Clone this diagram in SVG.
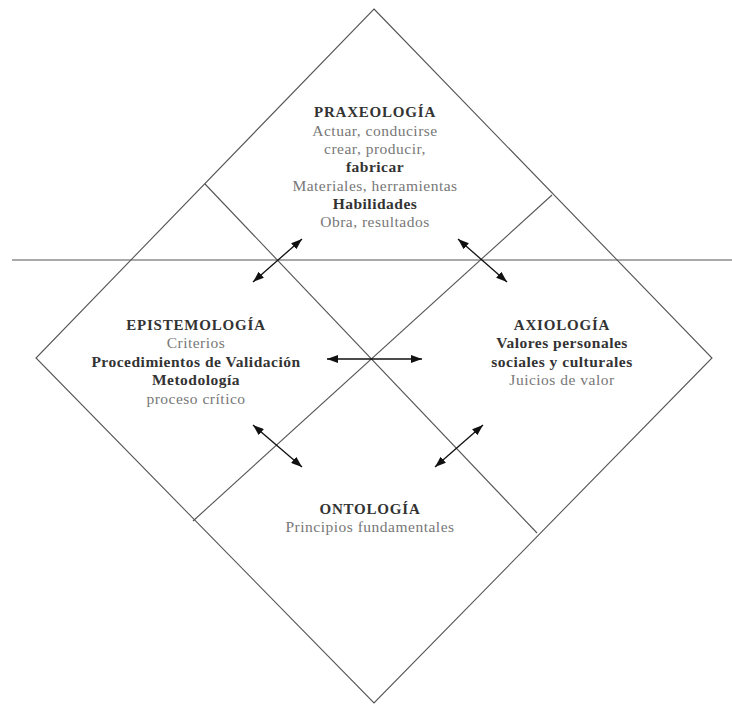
<svg xmlns="http://www.w3.org/2000/svg" width="732" height="706" viewBox="0 0 732 706">
  <style>
    .frame { fill: none; stroke: #555; stroke-width: 1.1; }
    .link { fill: none; stroke: #111; stroke-width: 1.3; marker-start: url(#head); marker-end: url(#head); }
    text { font-family: "Liberation Serif", "DejaVu Serif", serif; font-size: 15.5px; letter-spacing: 0.5px; text-anchor: middle; }
    .title { font-weight: bold; fill: #333; font-size: 15px; letter-spacing: 0.8px; }
    .plain { fill: #777; }
    .strong { font-weight: bold; fill: #333; }
  </style>
  <defs>
    <marker id="head" viewBox="0 0 11 8" refX="11" refY="4" markerWidth="11" markerHeight="8" markerUnits="userSpaceOnUse" orient="auto-start-reverse">
      <path d="M0,0 L11,4 L0,8 z" fill="#111"/>
    </marker>
  </defs>

  <rect width="732" height="706" fill="#fff"/>

  <!-- outer diamond, horizontal divider and the two crossing diagonals -->
  <g id="frame">
    <polygon class="frame" points="374,9 712,358 374,703 36,358"/>
    <line class="frame" x1="12" y1="260" x2="732" y2="260"/>
    <line class="frame" x1="205" y1="184" x2="537" y2="533"/>
    <line class="frame" x1="552" y1="195" x2="193" y2="521"/>
  </g>

  <g id="praxeologia">
    <text class="title" x="375" y="117">PRAXEOLOGÍA</text>
    <text class="plain" x="375" y="135.5">Actuar, conducirse</text>
    <text class="plain" x="375" y="154">crear, producir,</text>
    <text class="strong" x="375" y="172">fabricar</text>
    <text class="plain" x="375" y="190.5">Materiales, herramientas</text>
    <text class="strong" x="375" y="208.5">Habilidades</text>
    <text class="plain" x="375" y="227">Obra, resultados</text>
  </g>

  <g id="epistemologia">
    <text class="title" x="196" y="330">EPISTEMOLOGÍA</text>
    <text class="plain" x="196" y="348">Criterios</text>
    <text class="strong" x="196" y="367">Procedimientos de Validación</text>
    <text class="strong" x="196" y="385">Metodología</text>
    <text class="plain" x="196" y="404">proceso crítico</text>
  </g>

  <g id="axiologia">
    <text class="title" x="562" y="330">AXIOLOGÍA</text>
    <text class="strong" x="562" y="348">Valores personales</text>
    <text class="strong" x="562" y="367">sociales y culturales</text>
    <text class="plain" x="562" y="385">Juicios de valor</text>
  </g>

  <g id="ontologia">
    <text class="title" x="370" y="514">ONTOLOGÍA</text>
    <text class="plain" x="370" y="532">Principios fundamentales</text>
  </g>

  <!-- two-way relations between the four fields -->
  <g id="connectors">
    <line class="link" x1="302" y1="239" x2="253" y2="282"/>
    <line class="link" x1="458" y1="239" x2="507" y2="282"/>
    <line class="link" x1="327" y1="359" x2="422" y2="359"/>
    <line class="link" x1="253" y1="425" x2="302" y2="467"/>
    <line class="link" x1="483" y1="425" x2="435" y2="467"/>
  </g>
</svg>
